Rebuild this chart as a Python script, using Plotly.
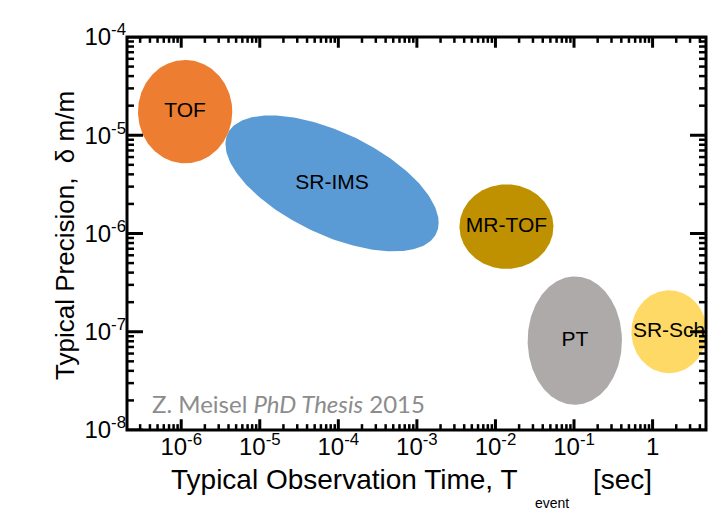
import numpy as np
import plotly.graph_objects as go

# ---- data (log10 units) ----
names = ["SR-IMS", "TOF", "MR-TOF", "PT", "SR-Sch"]
colors = ["#5B9BD5", "#ED7D31", "#BF9000", "#AEAAAA", "#FFD966"]
center_log_t = [-4.08, -5.95, -1.86, -0.99, 0.21]      # log10 observation time [s]
center_log_p = [-5.49, -4.76, -5.93, -7.09, -7.00]     # log10 precision
half_width_dec = [1.357, 0.60, 0.598, 0.60, 0.48]      # horizontal half-extent, decades
half_height_dec = [0.692, 0.526, 0.43, 0.653, 0.422]   # vertical half-extent, decades
tilt_phase_deg = [54.7, 90, 90, 90, 90]                # 90 = axis-aligned

x_tick_exp = [-6, -5, -4, -3, -2, -1, 0]
x_tick_text = ["10<sup>-6</sup>", "10<sup>-5</sup>", "10<sup>-4</sup>", "10<sup>-3</sup>",
               "10<sup>-2</sup>", "10<sup>-1</sup>", "1"]
y_tick_exp = [-8, -7, -6, -5, -4]
y_tick_text = ["10<sup>-8</sup>", "10<sup>-7</sup>", "10<sup>-6</sup>", "10<sup>-5</sup>", "10<sup>-4</sup>"]
X_RANGE = [-6.69, 0.68]
Y_RANGE = [-8.0, -4.0]

FONT = "Liberation Sans, Arial, sans-serif"
W, H = 720, 502
M = dict(l=119, r=22, t=19, b=80)
PW, PH = W - M["l"] - M["r"], H - M["t"] - M["b"]
px_per_dec_x = PW / (X_RANGE[1] - X_RANGE[0])
px_per_dec_y = PH / (Y_RANGE[1] - Y_RANGE[0])

fig = go.Figure()
t = np.linspace(0, 2 * np.pi, 241)
for n, c, cx, cy, w, h, ph in zip(names, colors, center_log_t, center_log_p,
                                   half_width_dec, half_height_dec, tilt_phase_deg):
    phr = np.deg2rad(ph)
    lx = cx + w * np.cos(t)
    ly = cy - h * np.cos(t - phr)
    fig.add_trace(go.Scatter(x=10 ** lx, y=10 ** ly, mode="lines", fill="toself",
                             fillcolor=c, line=dict(width=0, color=c),
                             hoverinfo="skip", showlegend=False))


def minor_vals(lo, hi):
    return [k * 10.0 ** e for e in range(lo, hi + 1) for k in range(2, 10)]


x_major = [10.0 ** e for e in x_tick_exp]
y_major = [10.0 ** e for e in y_tick_exp]
x_minor = [v for v in minor_vals(-7, 0) if X_RANGE[0] < np.log10(v) < X_RANGE[1]]
y_minor = [v for v in minor_vals(-9, -5) if Y_RANGE[0] < np.log10(v) < Y_RANGE[1]]


# ---- tick marks (inside, all four sides) as line traces on the log axes ----
def tick_segments(xvals, yvals, len_x_px, len_y_px):
    xs, ys = [], []
    dy = len_x_px / px_per_dec_y
    for v in xvals:
        xs += [v, v, None, v, v, None]
        ys += [10 ** Y_RANGE[0], 10 ** (Y_RANGE[0] + dy), None,
               10 ** Y_RANGE[1], 10 ** (Y_RANGE[1] - dy), None]
    dx = len_y_px / px_per_dec_x
    for v in yvals:
        xs += [10 ** X_RANGE[0], 10 ** (X_RANGE[0] + dx), None,
               10 ** X_RANGE[1], 10 ** (X_RANGE[1] - dx), None]
        ys += [v, v, None, v, v, None]
    return xs, ys


TICK_COLOR = "black"
mx, my = tick_segments(x_minor, y_minor, 6, 7)
fig.add_trace(go.Scatter(x=mx, y=my, mode="lines", line=dict(color=TICK_COLOR, width=2.5),
                         hoverinfo="skip", showlegend=False))
Mx, My = tick_segments(x_major, y_major, 11, 16)
fig.add_trace(go.Scatter(x=Mx, y=My, mode="lines", line=dict(color=TICK_COLOR, width=3),
                         hoverinfo="skip", showlegend=False))

fig.add_trace(go.Scatter(x=[10 ** v for v in center_log_t], y=[10 ** v for v in center_log_p],
                         mode="text", text=names, textposition="middle center",
                         textfont=dict(family=FONT, size=21, color="black"),
                         hoverinfo="skip", showlegend=False))

# plot frame
shapes = [dict(type="rect", xref="paper", yref="paper", x0=0, x1=1, y0=0, y1=1,
               line=dict(color="black", width=3), fillcolor="rgba(0,0,0,0)", layer="above")]

common = dict(type="log", showgrid=False, zeroline=False, showline=False, ticks="")
fig.update_layout(
    xaxis=dict(common, range=X_RANGE, tickmode="array", tickvals=x_major, ticktext=x_tick_text,
               tickfont=dict(family=FONT, size=24, color="black")),
    yaxis=dict(common, range=Y_RANGE, tickmode="array", tickvals=y_major, ticktext=y_tick_text,
               tickfont=dict(family=FONT, size=24, color="black")),
    shapes=shapes,
)

ann = [
    dict(text="Typical Observation Time, T", x=0.6788, y=-0.1266, xanchor="right", yanchor="middle",
         font=dict(family=FONT, size=28, color="black")),
    dict(text="event", x=0.734, y=-0.185, xanchor="center", yanchor="middle",
         font=dict(family=FONT, size=14, color="black")),
    dict(text="[sec]", x=0.8566, y=-0.1266, xanchor="center", yanchor="middle",
         font=dict(family=FONT, size=28, color="black")),
    dict(text="Typical Precision,&nbsp;&nbsp;δ m/m", x=-0.1071, y=0.4963, textangle=-90,
         xanchor="center", yanchor="middle", font=dict(family=FONT, size=26, color="black")),
    dict(text="Z. Meisel <i>PhD Thesis</i> 2015", x=0.0397, y=0.067, xanchor="left", yanchor="middle",
         font=dict(family="Lato, sans-serif", size=24, color="#8C8C8C")),
]
for a in ann:
    a.update(xref="paper", yref="paper", showarrow=False)
# page body has an 8px margin: shrink the figure so the plot area lands where the reference has it
fig.update_layout(annotations=ann, width=W, height=H, margin=M,
                  paper_bgcolor="white", plot_bgcolor="white")
fig.write_html("out.html")
